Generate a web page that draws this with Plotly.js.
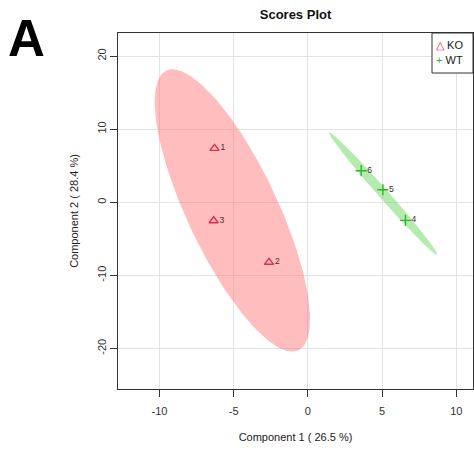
<!DOCTYPE html>
<html>
<head>
<meta charset="utf-8">
<script src="https://cdn.plot.ly/plotly-3.0.1.min.js"></script>
<style>html,body{margin:0;padding:0;background:#fff;}#chart{width:474px;height:455px;}</style>
</head>
<body>
<div id="chart"></div>
<script>
// Data
const koX = [-6.29, -2.62, -6.35];
const koY = [7.37, -8.22, -2.53];
const koLabels = ["1", "2", "3"];
const wtX = [6.57, 5.05, 3.59];
const wtY = [-2.48, 1.71, 4.31];
const wtLabels = ["4", "5", "6"];
const groupNames = ["KO", "WT"];
const xTicks = [-10, -5, 0, 5, 10];
const yTicks = [-20, -10, 0, 10, 20];
const confLevel = 0.95;

// 95% confidence ellipse (as in R's ellipse::ellipse) from the group's covariance
function ellipse(xs, ys, level, n) {
  const m = xs.length;
  const mx = xs.reduce((a, b) => a + b, 0) / m;
  const my = ys.reduce((a, b) => a + b, 0) / m;
  let vx = 0, vy = 0, cxy = 0;
  for (let i = 0; i < m; i++) {
    vx += (xs[i] - mx) ** 2; vy += (ys[i] - my) ** 2; cxy += (xs[i] - mx) * (ys[i] - my);
  }
  vx /= (m - 1); vy /= (m - 1); cxy /= (m - 1);
  const sx = Math.sqrt(vx), sy = Math.sqrt(vy);
  const r = cxy / (sx * sy);
  const d = Math.acos(r);
  const t = Math.sqrt(-2 * Math.log(1 - level));
  const ex = [], ey = [];
  for (let k = 0; k <= n; k++) {
    const a = 2 * Math.PI * k / n;
    ex.push(t * sx * Math.cos(a + d / 2) + mx);
    ey.push(t * sy * Math.cos(a - d / 2) + my);
  }
  return {x: ex, y: ey};
}

const koE = ellipse(koX, koY, confLevel, 200);
const wtE = ellipse(wtX, wtY, confLevel, 200);

const font = "Liberation Sans, Arial, Helvetica, sans-serif";
const red = "#E0304A";
const green = "#2DB52D";

const traces = [
  {x: koE.x, y: koE.y, mode: "lines", fill: "toself", fillcolor: "rgba(255,118,118,0.48)",
   line: {width: 0}, showlegend: false, hoverinfo: "skip"},
  {x: wtE.x, y: wtE.y, mode: "lines", fill: "toself", fillcolor: "rgba(110,215,95,0.5)",
   line: {width: 0}, showlegend: false, hoverinfo: "skip"},
  {x: koX, y: koY, text: koLabels, name: groupNames[0], mode: "markers+text",
   textposition: "middle right", textfont: {size: 8.5, color: "#333", family: font},
   marker: {symbol: "triangle-up-open", size: 8, color: red, line: {width: 1.4, color: red}}},
  {x: wtX, y: wtY, text: wtLabels, name: groupNames[1], mode: "markers+text",
   textposition: "middle right", textfont: {size: 8.5, color: "#333", family: font},
   marker: {symbol: "cross-thin-open", size: 8, color: green, line: {width: 1.4, color: green}}}
];

// legend box geometry in paper units (plot area 355 x 356 px)
const pw = 355, ph = 356;
const legL = (432 - 118) / pw, legR = 1, legT = 1, legB = (389 - 73) / ph;

const layout = {
  width: 474, height: 455,
  margin: {l: 118, r: 1, t: 33, b: 66},
  paper_bgcolor: "#fff", plot_bgcolor: "#fff",
  showlegend: false,
  font: {family: font, size: 11, color: "#222"},
  title: {text: "<b>Scores Plot</b>", font: {size: 13, color: "#111", family: font},
          x: 0.5, xref: "paper", y: 1 - 14 / 455, yref: "container", yanchor: "middle"},
  xaxis: {range: [-12.79, 11.12], tickvals: xTicks, ticktext: xTicks.map(String),
          ticks: "outside", ticklen: 7, tickcolor: "#333", ticklabelstandoff: 5,
          showgrid: true, gridcolor: "#e3e3e3", zeroline: false,
          showline: true, linecolor: "#333", linewidth: 1, mirror: true,
          tickfont: {size: 11, color: "#333"},
          title: {text: "Component 1 ( 26.5 %)", font: {size: 11, color: "#222"}, standoff: 17}},
  yaxis: {range: [-25.55, 23.15], tickvals: yTicks, ticktext: yTicks.map(String),
          ticks: "outside", ticklen: 7, tickcolor: "#333",
          tickangle: -90,
          showgrid: true, gridcolor: "#e3e3e3", zeroline: false,
          showline: true, linecolor: "#333", linewidth: 1, mirror: true,
          tickfont: {size: 11, color: "#333"},
          title: {text: "Component 2 ( 28.4 %)", font: {size: 11, color: "#222"}, standoff: 14}},
  shapes: [
    {type: "rect", xref: "paper", yref: "paper", x0: legL, x1: legR, y0: legB, y1: legT,
     fillcolor: "#fff", line: {color: "#333", width: 1}, layer: "above"}
  ],
  annotations: [
    {text: "<b>A</b>", xref: "paper", yref: "paper", x: (6 - 118) / pw, y: (389 - 8) / ph,
     xanchor: "left", yanchor: "top", showarrow: false, font: {size: 51, color: "#000", family: font}},
    {text: "<span style='color:" + red + "'>△</span> " + groupNames[0], xref: "paper", yref: "paper",
     x: (434 - 118) / pw, y: (389 - 45) / ph, xanchor: "left", yanchor: "middle", showarrow: false,
     font: {size: 11, color: "#222", family: font}},
    {text: "<span style='color:" + green + "'>+</span> " + groupNames[1], xref: "paper", yref: "paper",
     x: (434 - 118) / pw, y: (389 - 60) / ph, xanchor: "left", yanchor: "middle", showarrow: false,
     font: {size: 11, color: "#222", family: font}}
  ]
};

Plotly.newPlot("chart", traces, layout, {staticPlot: true, displayModeBar: false});
</script>
</body>
</html>
